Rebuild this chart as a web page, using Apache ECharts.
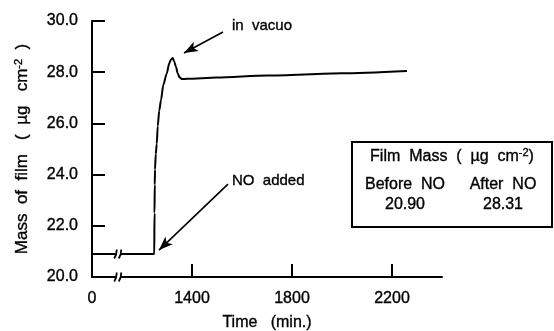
<!DOCTYPE html>
<html><head><meta charset="utf-8">
<script src="https://cdn.jsdelivr.net/npm/echarts@6/dist/echarts.min.js"></script>
<style>html,body{margin:0;padding:0;background:#fff;}#c{width:554px;height:331px;}</style>
</head><body><div id="c"></div>
<script>
// Time axis (min.) — axis origin "0" is drawn at 1000 with a break
const times = [1000, 1249, 1250, 1251, 1252, 1255, 1259, 1263, 1269, 1276, 1285, 1299, 1309, 1316, 1323, 1329, 1336, 1343, 1350, 1360, 1380, 1500, 1700, 2000, 2260];
const mass  = [20.9, 20.9, 22.5, 23.6, 24.2, 24.8, 25.2, 25.9, 26.5, 26.9, 27.5, 27.95, 28.35, 28.5, 28.55, 28.42, 28.2, 27.95, 27.8, 27.73, 27.74, 27.79, 27.87, 27.96, 28.05];
const xTickValues = [1000, 1400, 1800, 2200];
const xTickLabels = ['0', '1400', '1800', '2200'];
const breakTime = 1105;
const breakValues = [20.0, 20.9];
const arrowVacuo = [[1524, 29.57], [1368, 28.75]];
const arrowNO = [[1544, 23.63], [1268, 21.05]];
const tableCols = ['Before NO', 'After NO'];
const tableVals = ['20.90', '28.31'];

const FONT = '"Liberation Sans", Arial, Helvetica, sans-serif';
const TXT = {fontFamily: FONT, color: '#000', textBorderColor: '#000', textBorderWidth: 0.35};
const chart = echarts.init(document.getElementById('c'));

function breakRender(params, api) {
  const p = api.coord([api.value(0), api.value(1)]);
  const x = p[0], y = p[1];
  const ls = {stroke: '#000', lineWidth: 1.8, fill: null};
  return {
    type: 'group',
    children: [
      {type: 'rect', shape: {x: x - 2.5, y: y - 2, width: 5, height: 4}, style: {fill: '#fff'}},
      {type: 'bezierCurve', shape: {x1: x - 4, y1: y + 4.5, x2: x - 1.5, y2: y - 4.5, cpx1: x - 1.5, cpy1: y + 1}, style: ls},
      {type: 'bezierCurve', shape: {x1: x + 0.5, y1: y + 4.5, x2: x + 3, y2: y - 4.5, cpx1: x + 3, cpy1: y + 1}, style: ls}
    ]
  };
}

function gtext(x, y, text, extra) {
  return Object.assign({type: 'text', x: x, y: y, style: Object.assign({
    text: text, font: '15px ' + FONT, fill: '#000', stroke: '#000', lineWidth: 0.35,
    align: 'center', verticalAlign: 'middle'}, extra || {})});
}

chart.setOption({
  animation: false,
  backgroundColor: '#fff',
  textStyle: {fontFamily: FONT, color: '#000'},
  grid: {left: 92, right: 112, top: 21, bottom: 54, containLabel: false, outerBoundsMode: 'none'},
  xAxis: {
    type: 'value', min: 1000, max: 2400, interval: 400,
    name: 'Time   (min.)', nameLocation: 'middle', nameGap: 38,
    nameTextStyle: Object.assign({fontSize: 16}, TXT),
    axisLine: {show: true, lineStyle: {color: '#000', width: 2}},
    axisTick: {show: true, inside: true, length: 13, lineStyle: {color: '#000', width: 2},
      customValues: xTickValues.slice(1)},
    axisLabel: Object.assign({fontSize: 16, margin: 14,
      customValues: xTickValues,
      formatter: v => xTickLabels[xTickValues.indexOf(v)] ?? ''}, TXT),
    splitLine: {show: false}
  },
  yAxis: {
    type: 'value', min: 20, max: 30, interval: 2,
    name: 'Mass  of  film   (  µg   cm{sup|-2}  )', nameLocation: 'middle', nameGap: 60, nameRotate: 90,
    nameTextStyle: Object.assign({fontSize: 17,
      rich: {sup: Object.assign({fontSize: 11, verticalAlign: 'top', padding: [0, 0, 8, 0]}, TXT)}}, TXT),
    axisLine: {show: true, lineStyle: {color: '#000', width: 2}},
    axisTick: {show: true, inside: true, length: 13, lineStyle: {color: '#000', width: 2}},
    axisLabel: Object.assign({fontSize: 16, margin: 14, formatter: v => v.toFixed(1)}, TXT),
    splitLine: {show: false}
  },
  series: [
    {
      type: 'line', data: times.map((t, i) => [t, mass[i]]),
      showSymbol: false, symbol: 'none', smooth: 0.25, smoothMonotone: 'x',
      lineStyle: {color: '#000', width: 2}, z: 3,
      markLine: {
        silent: true, symbol: ['none', 'arrow'], symbolSize: [8, 14],
        lineStyle: {color: '#000', width: 1.6, type: 'solid'}, label: {show: false},
        data: [
          [{coord: arrowVacuo[0]}, {coord: arrowVacuo[1]}],
          [{coord: arrowNO[0]}, {coord: arrowNO[1]}]
        ]
      }
    },
    {
      type: 'custom', clip: false, z: 5,
      data: breakValues.map(v => [breakTime, v]),
      renderItem: breakRender
    }
  ],
  graphic: [
    gtext(232, 26, 'in  vacuo', {align: 'left'}),
    gtext(232, 181, 'NO  added', {align: 'left'}),
    {type: 'rect', shape: {x: 352, y: 142, width: 200, height: 85}, style: {fill: null, stroke: '#000', lineWidth: 2}},
    gtext(452, 157, 'Film  Mass  (  µg  cm{sup|-2})', {font: '16px ' + FONT, rich: {sup: {fontSize: 11, verticalAlign: 'top', padding: [0, 0, 8, 0], fontFamily: FONT, fill: '#000'}}}),
    gtext(405, 185, tableCols[0].replace(' ', '  '), {font: '16px ' + FONT}),
    gtext(503, 185, tableCols[1].replace(' ', '  '), {font: '16px ' + FONT}),
    gtext(405, 205, tableVals[0], {font: '16px ' + FONT}),
    gtext(503, 205, tableVals[1], {font: '16px ' + FONT})
  ]
});
</script></body></html>
